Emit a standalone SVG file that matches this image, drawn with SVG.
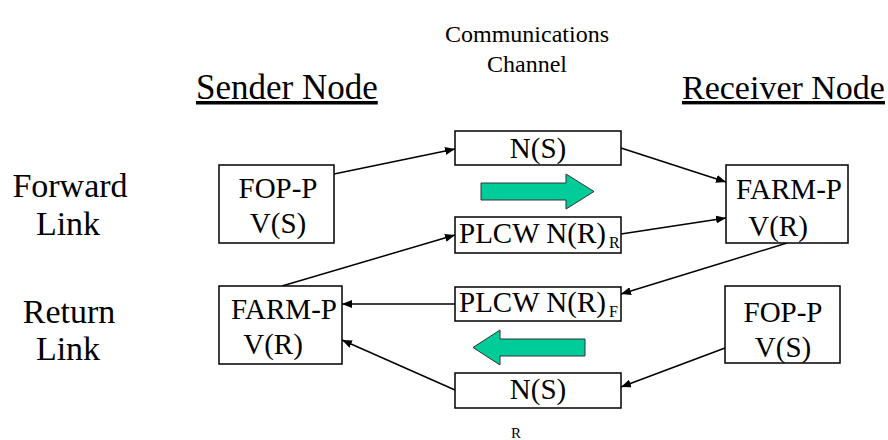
<svg xmlns="http://www.w3.org/2000/svg" width="888" height="440" viewBox="0 0 888 440">
<rect width="888" height="440" fill="#fff"/>
<defs>
<marker id="ah" viewBox="0 0 10 8" refX="10" refY="4" markerWidth="10" markerHeight="8" markerUnits="userSpaceOnUse" orient="auto">
<path d="M0,0 L10,4 L0,8 z" fill="#000"/>
</marker>
</defs>
<g id="titles">
<text font-family="Times New Roman" font-size="24" text-anchor="middle" x="527" y="42">Communications</text>
<text font-family="Times New Roman" font-size="24" text-anchor="middle" x="527" y="72">Channel</text>
<text font-family="Times New Roman" font-size="35" text-decoration="underline" x="196" y="99">Sender Node</text>
<text font-family="Times New Roman" font-size="34" text-decoration="underline" x="682" y="99">Receiver Node</text>
<text font-family="Times New Roman" font-size="34" text-anchor="middle" x="70" y="197">Forward</text>
<text font-family="Times New Roman" font-size="34" text-anchor="middle" x="68" y="235">Link</text>
<text font-family="Times New Roman" font-size="34" text-anchor="middle" x="69" y="323">Return</text>
<text font-family="Times New Roman" font-size="34" text-anchor="middle" x="68" y="360">Link</text>
<text font-family="Times New Roman" font-size="15" text-anchor="middle" x="516" y="438">R</text>
</g>
<g id="arrows-green" fill="#00CC99" stroke="#333" stroke-width="1">
<path d="M481,183 H566 V174 L594,191.5 L566,209 V200 H481 Z"/>
<path d="M585,339 H500 V330 L473,347.5 L500,365 V356 H585 Z"/>
</g>
<g id="connectors" stroke="#000" stroke-width="1.5" fill="none" marker-end="url(#ah)">
<line x1="334" y1="174" x2="455" y2="149"/>
<line x1="282" y1="286" x2="455" y2="235"/>
<line x1="621" y1="148" x2="726" y2="182"/>
<line x1="621" y1="234" x2="726" y2="218"/>
<line x1="787" y1="243" x2="621" y2="294"/>
<line x1="455" y1="304" x2="342" y2="304"/>
<line x1="725" y1="348" x2="621" y2="387"/>
<line x1="455" y1="390" x2="342" y2="340"/>
</g>
<g id="fop-sender">
<rect x="219" y="165" width="115" height="78" fill="#fff" stroke="#000" stroke-width="1.5"/>
<text font-family="Times New Roman" font-size="29" text-anchor="middle" x="278" y="198">FOP-P</text>
<text font-family="Times New Roman" font-size="29" text-anchor="middle" x="278" y="233">V(S)</text>
</g>
<g id="farm-sender">
<rect x="219" y="286" width="123" height="78" fill="#fff" stroke="#000" stroke-width="1.5"/>
<text font-family="Times New Roman" font-size="29" text-anchor="middle" x="284" y="319">FARM-P</text>
<text font-family="Times New Roman" font-size="29" text-anchor="middle" x="273" y="354">V(R)</text>
</g>
<g id="farm-receiver">
<rect x="726" y="165" width="122" height="78" fill="#fff" stroke="#000" stroke-width="1.5"/>
<text font-family="Times New Roman" font-size="29" text-anchor="middle" x="789" y="199">FARM-P</text>
<text font-family="Times New Roman" font-size="29" text-anchor="middle" x="778" y="236">V(R)</text>
</g>
<g id="fop-receiver">
<rect x="725" y="286" width="115" height="77" fill="#fff" stroke="#000" stroke-width="1.5"/>
<text font-family="Times New Roman" font-size="29" text-anchor="middle" x="783" y="322">FOP-P</text>
<text font-family="Times New Roman" font-size="29" text-anchor="middle" x="783" y="357">V(S)</text>
</g>
<g id="ns-forward">
<rect x="455" y="131" width="166" height="34" fill="#fff" stroke="#000" stroke-width="1.5"/>
<text font-family="Times New Roman" font-size="29" text-anchor="middle" x="538" y="158">N(S)</text>
</g>
<g id="plcw-r">
<rect x="455" y="217" width="166" height="36" fill="#fff" stroke="#000" stroke-width="1.5"/>
<text font-family="Times New Roman" font-size="29" x="459" y="243">PLCW N(R)<tspan font-size="16" dx="3" dy="5">R</tspan></text>
</g>
<g id="plcw-f">
<rect x="455" y="287" width="166" height="34" fill="#fff" stroke="#000" stroke-width="1.5"/>
<text font-family="Times New Roman" font-size="29" x="459" y="312">PLCW N(R)<tspan font-size="16" dx="3" dy="5">F</tspan></text>
</g>
<g id="ns-return">
<rect x="455" y="373" width="166" height="35" fill="#fff" stroke="#000" stroke-width="1.5"/>
<text font-family="Times New Roman" font-size="29" text-anchor="middle" x="538" y="399">N(S)</text>
</g>
</svg>
